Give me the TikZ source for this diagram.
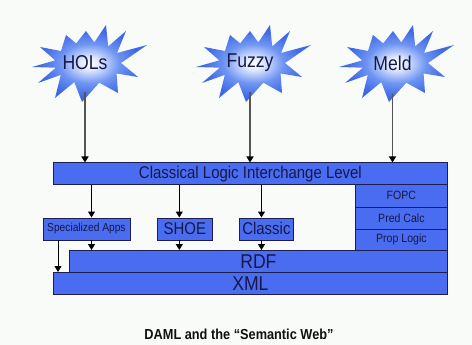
\documentclass[tikz,border=0pt]{standalone}
\usepackage{fontspec}
\setmainfont{Liberation Sans}[FakeStretch=0.88]
\usetikzlibrary{arrows.meta}

\definecolor{pagebg}{RGB}{248,251,248}
\definecolor{boxblue}{RGB}{74,108,240}
\definecolor{boxline}{RGB}{28,30,80}
\definecolor{inknavy}{RGB}{22,24,70}
\definecolor{stemgray}{RGB}{85,85,85}
\definecolor{starpale}{RGB}{225,234,255}
\definecolor{starblue}{RGB}{110,148,242}
\definecolor{stardeep}{RGB}{62,104,230}

% white-to-blue glow for the starbursts
\pgfdeclareradialshading{burstglow}{\pgfpoint{0bp}{0bp}}{%
  color(0bp)=(white); color(4bp)=(starpale); color(13bp)=(starblue);
  color(22bp)=(stardeep); color(50bp)=(stardeep)}

\newcommand\setfs[1]{\fontsize{#1}{#1}\selectfont}

\tikzset{
  burst/.pic={
    \shade[shading=burstglow]
      (59,-18) -- (33,0) -- (50,14) -- (28.6,10.5) -- (30,30) -- (11.3,19.7)
      -- (-6,39) -- (-13.7,19.1) -- (-33,35) -- (-27.2,11.9) -- (-50,20)
      -- (-32.2,4.7) -- (-56,4) -- (-32.8,-2.6) -- (-48,-16) -- (-27,-12)
      -- (-22,-28) -- (-11.8,-19.6) -- (-2,-32) -- (6.3,-20.6) -- (18,-38)
      -- (20.2,-16.6) -- (38,-32) -- (29,-10) -- cycle;
  },
  layer/.style={draw=boxline, fill=boxblue, line width=0.8pt, inner sep=0pt,
    anchor=north west, text=inknavy},
  burstlabel/.style={inner sep=0pt, minimum height=54pt, text=inknavy,
    font=\setfs{20}},
  flow/.style={draw=black, line width=1pt, -{Triangle[width=7pt,length=6pt]}},
  stem/.style={draw=stemgray, line width=1.3pt,
    -{Triangle[width=7pt,length=6pt,color=black]}},
}

\begin{document}
\begin{tikzpicture}[x=1pt, y=-1pt]
  \useasboundingbox (0,0) rectangle (472,345);
  \fill[pagebg] (0,0) rectangle (472,345);

  % starbursts
  \pic at (88,63) {burst};
  \pic at (252,63) {burst};
  \pic at (395,63) {burst};
  \node[burstlabel] (hols)  at (85,63)    {HOLs};
  \node[burstlabel] (fuzzy) at (250,63)   {Fuzzy};
  \node[burstlabel] (meld)  at (392.5,63) {Meld};

  % layered stack
  \node[layer, minimum width=394pt, minimum height=21.5pt, font=\setfs{17}]
    (clil) at (53,162.5) {Classical Logic Interchange Level};
  \node[layer, minimum width=92pt, minimum height=22.5pt, font=\setfs{12}]
    (fopc) at (355,184) {FOPC};
  \node[layer, minimum width=92pt, minimum height=22pt, font=\setfs{12}]
    (pred) at (355,206.5) {Pred Calc};
  \node[layer, minimum width=92pt, minimum height=21.5pt, font=\setfs{12}]
    (prop) at (355,228.5) {Prop Logic};
  \node[layer, minimum width=378pt, minimum height=22pt, font=\setfs{20}]
    (rdf) at (69,250) {RDF};
  \node[layer, minimum width=394pt, minimum height=22pt, font=\setfs{20}]
    (xml) at (53,272) {XML};

  \node[layer, minimum width=87pt, minimum height=22pt, font=\setfs{11.6}]
    (spec) at (42.5,217.5) {Specialized Apps};
  \node[layer, minimum width=55pt, minimum height=22pt, font=\setfs{17}]
    (shoe) at (157,217.5) {SHOE};
  \node[layer, minimum width=54pt, minimum height=22pt, font=\setfs{17}]
    (classic) at (239,217.5) {Classic};

  % title
  \node[font=\bfseries\setfs{14.5}, text={rgb,255:red,17;green,17;blue,17}]
    (title) at (239,334) {DAML and the “Semantic Web”};

  % connector columns
  \coordinate (xspec) at (91.5,0);
  \coordinate (xshoe) at (179.3,0);
  \coordinate (xclassic) at (261.5,0);
  \coordinate (xleft) at (58,0);

  % arrows from the starbursts into the interchange level
  \draw[stem] ([yshift=-2pt]hols.south) -- (hols.south |- clil.north);
  \draw[stem] ([yshift=-2pt]fuzzy.south) -- (fuzzy.south |- clil.north);
  \draw[stem] ([yshift=-4pt]meld.south) -- (meld.south |- clil.north);

  % interchange level down to the applications
  \draw[flow] (clil.south -| xspec) -- (spec.north -| xspec);
  \draw[flow] (clil.south -| xshoe) -- (shoe.north -| xshoe);
  \draw[flow] (clil.south -| xclassic) -- (classic.north -| xclassic);

  % applications down to RDF / XML
  \draw[flow] (spec.south -| xspec) -- (rdf.north -| xspec);
  \draw[flow] (shoe.south -| xshoe) -- (rdf.north -| xshoe);
  \draw[flow] (classic.south -| xclassic) -- (rdf.north -| xclassic);
  \draw[flow] (spec.south -| xleft) -- (xml.north -| xleft);
\end{tikzpicture}
\end{document}
